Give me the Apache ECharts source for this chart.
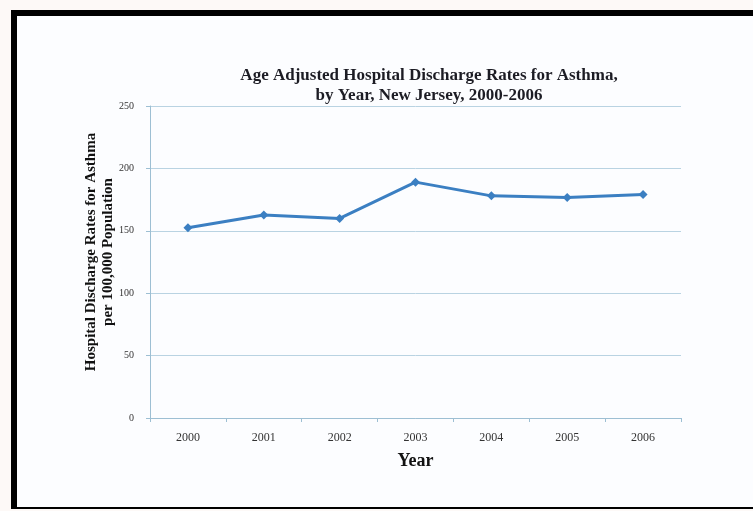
<!DOCTYPE html>
<html>
<head>
<meta charset="utf-8">
<script src="https://cdn.jsdelivr.net/npm/echarts@6/dist/echarts.min.js"></script>
<style>
html,body{margin:0;padding:0;background:#fdf9f7;}
#c{width:753px;height:511px;}
</style>
</head>
<body>
<div id="c"></div>
<script>
var years = ['2000','2001','2002','2003','2004','2005','2006'];
var rates = [152.4, 162.6, 159.9, 189.0, 178.0, 176.7, 179.1];
var yTicks = [0, 50, 100, 150, 200, 250];

var chart = echarts.init(document.getElementById('c'));
var serif = '"Liberation Serif", "DejaVu Serif", serif';
chart.setOption({
  backgroundColor: '#fdf9f7',
  animation: false,
  graphic: [
    {type:'rect', z:-10, shape:{x:11, y:10, width:760, height:499}, style:{fill:'#000'}},
    {type:'rect', z:-9, shape:{x:17, y:16, width:760, height:491}, style:{fill:'#fcfdff'}}
  ],
  title: {
    text: 'Age Adjusted Hospital Discharge Rates for Asthma,\nby Year, New Jersey, 2000-2006',
    left: 424, top: 61, textAlign: 'center',
    textStyle: {fontFamily: serif, fontWeight: 'bold', fontSize: 17, color: '#1c1c24', lineHeight: 20}
  },
  grid: {left: 150, right: 72, top: 106, bottom: 93, containLabel: false},
  xAxis: {
    type: 'category', data: years, boundaryGap: true,
    name: 'Year', nameLocation: 'middle', nameGap: 34,
    nameTextStyle: {fontFamily: serif, fontWeight: 'bold', fontSize: 18, color: '#111'},
    axisLine: {lineStyle: {color: '#9dbfd3', width: 1}},
    axisTick: {show: true, length: 4, lineStyle: {color: '#9dbfd3'}},
    axisLabel: {fontFamily: serif, fontSize: 12, color: '#333', margin: 14}
  },
  yAxis: {
    type: 'value', min: yTicks[0], max: yTicks[yTicks.length-1], interval: 50,
    name: 'Hospital Discharge Rates for Asthma\nper 100,000 Population',
    nameLocation: 'middle', nameGap: 33, nameRotate: 90, nameMoveOverlap: false,
    nameTextStyle: {fontFamily: serif, fontWeight: 'bold', fontSize: 15, color: '#111', lineHeight: 17, padding: [0, 0, 0, 20]},
    axisLine: {show: true, lineStyle: {color: '#9dbfd3', width: 1}},
    axisTick: {show: true, length: 4, lineStyle: {color: '#9dbfd3'}},
    splitLine: {lineStyle: {color: '#b9d3e2', width: 1}},
    axisLabel: {fontFamily: serif, fontSize: 10, color: '#333', margin: 16}
  },
  series: [{
    type: 'line', data: rates,
    symbol: 'diamond', symbolSize: 9,
    lineStyle: {color: '#3b7fc2', width: 3},
    itemStyle: {color: '#3b7fc2'}
  }]
});
</script>
</body>
</html>
